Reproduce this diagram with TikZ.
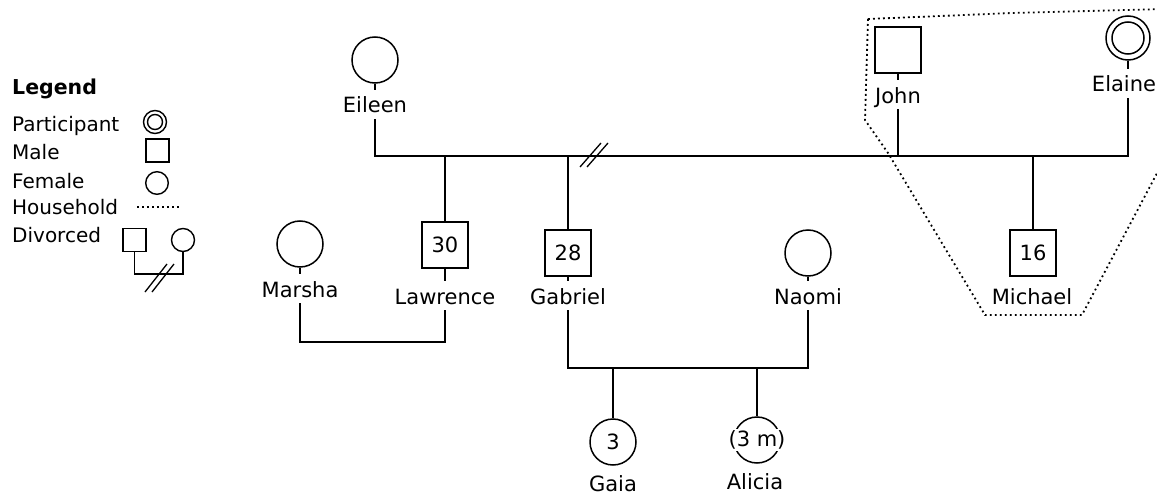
\documentclass[tikz,border=0pt]{standalone}
\usepackage{fontspec}
\setmainfont{DejaVu Sans}
\begin{document}
\begin{tikzpicture}[x=1pt,y=-1pt,
  txt/.style={font=\fontsize{21}{25}\selectfont, inner sep=0pt},
  lbl/.style={txt, text height=17pt, text depth=0pt, inner xsep=0pt, inner ysep=6pt, anchor=base},
  lbl0/.style={txt, anchor=base},
  lgd/.style={txt, anchor=base west},
  ln/.style={line width=1.7pt},
  slash/.style={line width=1.3pt},
  hh/.style={line width=1.8pt, dash pattern=on 1.8pt off 3.2pt},
  malebox/.style={draw, line width=1.7pt, minimum size=46pt, inner sep=0pt, txt},
  femcirc/.style={draw, circle, line width=1.5pt, minimum size=46pt, inner sep=0pt, txt},
  lgsq/.style={draw, line width=1.5pt, minimum size=23pt, inner sep=0pt},
  lgci/.style={draw, circle, line width=1.4pt, minimum size=23pt, inner sep=0pt}
]
\path[use as bounding box, clip] (0,0) rectangle (1157,495);

% ---------- Legend ----------
\node[lgd, font=\fontsize{20.5}{24}\selectfont\bfseries] (legendT) at (12,95) {Legend};
\node[lgd, font=\fontsize{20}{24}\selectfont] (lgPt) at (12,131) {Participant};
\node[lgd, font=\fontsize{20}{24}\selectfont] (lgMt) at (12,159) {Male};
\node[lgd, font=\fontsize{20}{24}\selectfont] (lgFt) at (12,188) {Female};
\node[lgd, font=\fontsize{20}{24}\selectfont] (lgHt) at (12,214) {Household};
\node[lgd, font=\fontsize{20}{24}\selectfont] (lgDt) at (12,242) {Divorced};

\node[lgci] (lgP) at (155,122) {};
\node[lgci, minimum size=15pt] (lgPin) at (155,122) {};
\node[lgsq] (lgM) at (157.5,150.5) {};
\node[lgci, minimum size=22.6pt] (lgF) at (157,183) {};
\coordinate (lgH1) at (137,207);
\coordinate (lgH2) at (181,207);
\draw[hh] (lgH1) -- (lgH2);
\node[lgsq] (lgDM) at (134.5,240) {};
\node[lgci] (lgDF) at (183,240) {};
\coordinate (lgD) at (0,274);
\draw[ln] (lgDM.south) -- (lgDM.south |- lgD) -- (lgDF.south |- lgD) -- (lgDF.south);
\draw[slash] (145,292) -- (167,264);
\draw[slash] (152,292) -- (174,264);

% ---------- Persons ----------
\node[femcirc] (eileen) at (375,60) {};
\node[lbl] (eileenL) at (375,113) {Eileen};
\node[malebox] (john) at (898,50) {};
\node[lbl] (johnL) at (898,103) {John};
\node[femcirc, minimum size=44pt] (elaine) at (1128,38) {};
\node[femcirc, minimum size=32pt] (elaineIn) at (1128,38) {};
\node[lbl] (elaineL) at (1124,92) {Elaine};
\node[femcirc] (marsha) at (300,244) {};
\node[lbl] (marshaL) at (300,297) {Marsha};
\node[malebox] (lawrence) at (445,245) {30};
\node[lbl] (lawrenceL) at (445,304) {Lawrence};
\node[malebox] (gabriel) at (568,253) {28};
\node[lbl] (gabrielL) at (568,304) {Gabriel};
\node[femcirc] (naomi) at (808,253) {};
\node[lbl] (naomiL) at (808,304) {Naomi};
\node[malebox] (michael) at (1033,253) {16};
\node[lbl0] (michaelL) at (1032,304) {Michael};
\node[femcirc] (gaia) at (613,442) {3};
\node[lbl0] (gaiaL) at (613,491) {Gaia};
\node[femcirc] (alicia) at (757,440) {};
\node[txt, fill=white, inner xsep=1pt, inner ysep=2pt] (aliciaAge) at (757,440) {(3 m)};
\node[lbl0] (aliciaL) at (755,489) {Alicia};

% ---------- Connectors ----------
\coordinate (m1) at (0,156);
\coordinate (m2) at (0,342);
\coordinate (m3) at (0,368);

% ticks between symbols and labels
\foreach \p in {eileen,john,elaine,marsha,lawrence,gabriel,naomi}
  \draw[ln] (\p.south) -- (\p L.north -| \p.south);

% Eileen -- John -- Elaine
\draw[ln] (eileenL.south) -- (eileenL.south |- m1) -- (elaine.south |- m1) -- (elaine.south |- elaineL.south);
\draw[ln] (johnL.south) -- (johnL.south |- m1);
\draw[ln] (lawrence.north) -- (lawrence.north |- m1);
\draw[ln] (gabriel.north) -- (gabriel.north |- m1);
\draw[ln] (michael.north) -- (michael.north |- m1);
\draw[slash] (580,167) -- (601,143);
\draw[slash] (587,167) -- (608,143);

% Marsha -- Lawrence
\draw[ln] (marshaL.south) -- (marshaL.south |- m2) -- (lawrenceL.south |- m2) -- (lawrenceL.south);

% Gabriel -- Naomi
\draw[ln] (gabrielL.south) -- (gabrielL.south |- m3) -- (naomiL.south |- m3) -- (naomiL.south);
\draw[ln] (gaia.north) -- (gaia.north |- m3);
\draw[ln] (alicia.north) -- (alicia.north |- m3);

% Household
\draw[hh] (868,19) -- (1012,13) -- (1165,9);
\draw[hh] (868,19) -- (865,120) -- (888,153) -- (985,315) -- (1082,315) -- (1165,158);
\end{tikzpicture}
\end{document}
